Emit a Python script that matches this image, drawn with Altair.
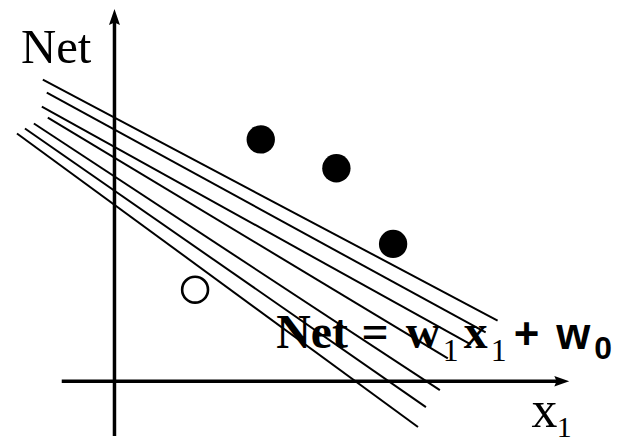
import altair as alt
import pandas as pd

# ---- data (chart units: origin at the axes crossing) ----
line_id = ["A", "B", "C", "D", "E", "F", "G"]
line_x0 = [-1.44, -1.36, -1.46, -1.34, -1.62, -1.80, -1.96]
line_y0 = [6.06, 5.80, 5.52, 5.30, 5.18, 5.08, 4.98]
line_x1 = [7.70, 7.46, 7.16, 6.70, 6.54, 6.26, 6.10]
line_y1 = [1.22, 0.98, 0.74, 0.46, -0.18, -0.52, -0.92]

pos_x = [2.94, 4.46, 5.60]
pos_y = [4.86, 4.28, 2.76]
neg_x = [1.62]
neg_y = [1.84]

X_DOMAIN = [-2.14, 10.10]
Y_DOMAIN = [-1.20, 7.48]

# axes
yaxis_bottom, yaxis_top = -1.10, 7.24
xaxis_left, xaxis_right = -1.06, 8.90
yarrow_y = 7.32
xarrow_x = 8.99

# text anchors
net_label = ("Net", -1.88, 6.40)
x_label = [("x", 8.64, -0.92), ("1", 9.04, -1.12)]
eq_serif_bold = [("Net", 3.97, 0.66), ("=", 5.24, 0.66), ("w", 6.20, 0.66), ("x", 7.26, 0.66)]
eq_serif_sub = [("1", 6.76, 0.40), ("1", 7.72, 0.40)]
eq_sans_bold = [("+", 8.28, 0.64), ("w", 9.22, 0.64)]
eq_sans_sub = [("0", 9.82, 0.44)]

xs = alt.Scale(domain=X_DOMAIN, nice=False, zero=False)
ys = alt.Scale(domain=Y_DOMAIN, nice=False, zero=False)


def txt_df(items):
    return pd.DataFrame({"t": [i[0] for i in items], "x": [i[1] for i in items], "y": [i[2] for i in items]})


lines_df = pd.DataFrame({"id": line_id, "x0": line_x0, "y0": line_y0, "x1": line_x1, "y1": line_y1})
lines = alt.Chart(lines_df).mark_rule(color="black", strokeWidth=2).encode(
    x=alt.X("x0:Q", scale=xs, axis=None),
    y=alt.Y("y0:Q", scale=ys, axis=None),
    x2="x1:Q",
    y2="y1:Q",
)

axes_df = pd.DataFrame({
    "x0": [0.0, xaxis_left], "x1": [0.0, xaxis_right],
    "y0": [yaxis_bottom, 0.0], "y1": [yaxis_top, 0.0],
})
axes = alt.Chart(axes_df).mark_rule(color="black", strokeWidth=3.5).encode(
    x=alt.X("x0:Q", scale=xs, axis=None),
    y=alt.Y("y0:Q", scale=ys, axis=None),
    x2="x1:Q",
    y2="y1:Q",
)

up_arrow = alt.Chart(pd.DataFrame({"x": [0.0], "y": [yarrow_y]})).mark_point(
    shape="M0,-1L0.69,1L0,0.7L-0.69,1Z", filled=True, color="black", opacity=1, size=256, strokeWidth=0
).encode(x=alt.X("x:Q", scale=xs, axis=None), y=alt.Y("y:Q", scale=ys, axis=None))

right_arrow = alt.Chart(pd.DataFrame({"x": [xarrow_x], "y": [0.0]})).mark_point(
    shape="M1,0L-1,0.7L-0.7,0L-1,-0.7Z", filled=True, color="black", opacity=1, size=225, strokeWidth=0
).encode(x=alt.X("x:Q", scale=xs, axis=None), y=alt.Y("y:Q", scale=ys, axis=None))

pos = alt.Chart(pd.DataFrame({"x": pos_x, "y": pos_y})).mark_point(
    shape="circle", filled=True, color="black", opacity=1, size=812
).encode(x=alt.X("x:Q", scale=xs, axis=None), y=alt.Y("y:Q", scale=ys, axis=None))

neg = alt.Chart(pd.DataFrame({"x": neg_x, "y": neg_y})).mark_point(
    shape="circle", filled=False, color="black", opacity=1, size=676, strokeWidth=2.6
).encode(x=alt.X("x:Q", scale=xs, axis=None), y=alt.Y("y:Q", scale=ys, axis=None))


def text_layer(items, font, size, weight, align):
    return alt.Chart(txt_df(items)).mark_text(
        font=font, fontSize=size, fontWeight=weight, align=align, baseline="alphabetic", color="black"
    ).encode(x=alt.X("x:Q", scale=xs, axis=None), y=alt.Y("y:Q", scale=ys, axis=None), text="t:N")


t_net = text_layer([net_label], "Liberation Serif", 49, "normal", "left")
t_x = text_layer([x_label[0]], "Liberation Serif", 52, "normal", "center")
t_x1 = text_layer([x_label[1]], "Liberation Serif", 30, "normal", "center")
t_eq = text_layer(eq_serif_bold, "Liberation Serif", 48, "bold", "center")
t_eqsub = text_layer(eq_serif_sub, "Liberation Serif", 32, "normal", "center")
t_plus = text_layer(eq_sans_bold, "Liberation Sans", 44, "bold", "center")
t_w0 = text_layer(eq_sans_sub, "Liberation Sans", 32, "bold", "center")

chart = alt.layer(
    t_net, t_x, t_x1, t_eq, t_eqsub, t_plus, t_w0,
    lines, axes, up_arrow, right_arrow, pos, neg,
).properties(
    width=612, height=434, autosize=alt.AutoSizeParams(type="none"), padding=0, background="white"
).configure_view(stroke=None)

chart.save("out.html", embed_options={"renderer": "svg", "actions": False})
